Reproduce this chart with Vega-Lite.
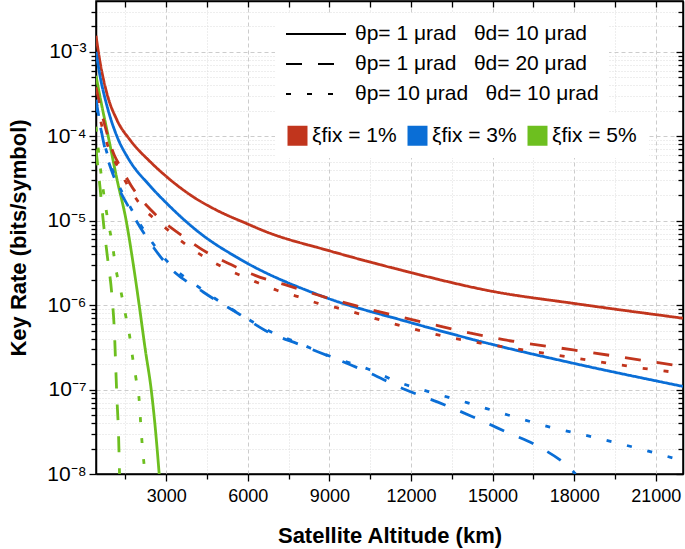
{
  "$schema": "https://vega.github.io/schema/vega-lite/v6.json",
  "width": 587,
  "height": 473,
  "autosize": {"type": "none"},
  "padding": {"left": 96, "top": 1, "right": 2, "bottom": 75},
  "config": {
    "font": "Liberation Sans",
    "view": {"stroke": "black", "strokeWidth": 1.5},
    "axis": {"domainColor": "black", "domainWidth": 1.5, "tickColor": "black", "tickWidth": 1.3, "labelColor": "black", "titleColor": "black", "labelFont": "Liberation Sans", "titleFont": "Liberation Sans"}
  },
  "data": {"values": [
    {"a":420,"r":1.55e-3,"c":"1%","s":"A"},{"a":577,"r":7.3e-4,"c":"1%","s":"A"},{"a":822,"r":3.2e-4,"c":"1%","s":"A"},{"a":1189,"r":1.56e-4,"c":"1%","s":"A"},{"a":1677,"r":9.0e-5,"c":"1%","s":"A"},{"a":2412,"r":5.0e-5,"c":"1%","s":"A"},{"a":3025,"r":3.3e-5,"c":"1%","s":"A"},{"a":3990,"r":1.92e-5,"c":"1%","s":"A"},{"a":4840,"r":1.34e-5,"c":"1%","s":"A"},{"a":5940,"r":9.3e-6,"c":"1%","s":"A"},{"a":6675,"r":7.4e-6,"c":"1%","s":"A"},{"a":9000,"r":4.4e-6,"c":"1%","s":"A"},{"a":11843,"r":2.5e-6,"c":"1%","s":"A"},{"a":15025,"r":1.45e-6,"c":"1%","s":"A"},{"a":17964,"r":1.05e-6,"c":"1%","s":"A"},{"a":22000,"r":7.0e-7,"c":"1%","s":"A"},

    {"a":420,"r":1.0e-3,"c":"3%","s":"A"},{"a":577,"r":5.0e-4,"c":"3%","s":"A"},{"a":822,"r":2.3e-4,"c":"3%","s":"A"},{"a":1189,"r":1.0e-4,"c":"3%","s":"A"},{"a":1600,"r":5.5e-5,"c":"3%","s":"A"},{"a":2400,"r":2.6e-5,"c":"3%","s":"A"},{"a":3025,"r":1.6e-5,"c":"3%","s":"A"},{"a":4249,"r":7.1e-6,"c":"3%","s":"A"},{"a":5719,"r":3.5e-6,"c":"3%","s":"A"},{"a":8779,"r":1.26e-6,"c":"3%","s":"A"},{"a":11843,"r":6.4e-7,"c":"3%","s":"A"},{"a":15025,"r":3.4e-7,"c":"3%","s":"A"},{"a":17964,"r":2.05e-7,"c":"3%","s":"A"},{"a":22000,"r":1.09e-7,"c":"3%","s":"A"},

    {"a":420,"r":5.2e-4,"c":"5%","s":"A"},{"a":600,"r":2.6e-4,"c":"5%","s":"A"},{"a":869,"r":1.0e-4,"c":"5%","s":"A"},{"a":1200,"r":3.0e-5,"c":"5%","s":"A"},{"a":1530,"r":1.0e-5,"c":"5%","s":"A"},{"a":1780,"r":3.2e-6,"c":"5%","s":"A"},{"a":2008,"r":1.0e-6,"c":"5%","s":"A"},{"a":2230,"r":3.0e-7,"c":"5%","s":"A"},{"a":2449,"r":1.0e-7,"c":"5%","s":"A"},{"a":2600,"r":3.5e-8,"c":"5%","s":"A"},{"a":2743,"r":1.0e-8,"c":"5%","s":"A"},

    {"a":420,"r":3.8e-4,"c":"1%","s":"B"},{"a":740,"r":1.36e-4,"c":"1%","s":"B"},{"a":1090,"r":6.0e-5,"c":"1%","s":"B"},{"a":1310,"r":4.4e-5,"c":"1%","s":"B"},{"a":1714,"r":2.6e-5,"c":"1%","s":"B"},{"a":2670,"r":1.13e-5,"c":"1%","s":"B"},{"a":3600,"r":6.6e-6,"c":"1%","s":"B"},{"a":4500,"r":4.2e-6,"c":"1%","s":"B"},{"a":5400,"r":3.0e-6,"c":"1%","s":"B"},{"a":6270,"r":2.25e-6,"c":"1%","s":"B"},{"a":7480,"r":1.7e-6,"c":"1%","s":"B"},{"a":8770,"r":1.26e-6,"c":"1%","s":"B"},{"a":10000,"r":9.8e-7,"c":"1%","s":"B"},{"a":11350,"r":7.6e-7,"c":"1%","s":"B"},{"a":12700,"r":6.0e-7,"c":"1%","s":"B"},{"a":14000,"r":4.8e-7,"c":"1%","s":"B"},{"a":15400,"r":3.9e-7,"c":"1%","s":"B"},{"a":17964,"r":2.95e-7,"c":"1%","s":"B"},{"a":20800,"r":2.15e-7,"c":"1%","s":"B"},{"a":22000,"r":1.87e-7,"c":"1%","s":"B"},

    {"a":420,"r":2.6e-4,"c":"1%","s":"C"},{"a":740,"r":1.0e-4,"c":"1%","s":"C"},{"a":1336,"r":3.7e-5,"c":"1%","s":"C"},{"a":2155,"r":1.41e-5,"c":"1%","s":"C"},{"a":2780,"r":9.3e-6,"c":"1%","s":"C"},{"a":3800,"r":5.0e-6,"c":"1%","s":"C"},{"a":5000,"r":2.9e-6,"c":"1%","s":"C"},{"a":6270,"r":1.9e-6,"c":"1%","s":"C"},{"a":7067,"r":1.5e-6,"c":"1%","s":"C"},{"a":7850,"r":1.26e-6,"c":"1%","s":"C"},{"a":8585,"r":1.05e-6,"c":"1%","s":"C"},{"a":9390,"r":9.1e-7,"c":"1%","s":"C"},{"a":11720,"r":5.6e-7,"c":"1%","s":"C"},{"a":13500,"r":4.1e-7,"c":"1%","s":"C"},{"a":15700,"r":3.1e-7,"c":"1%","s":"C"},{"a":18088,"r":2.35e-7,"c":"1%","s":"C"},{"a":21515,"r":1.63e-7,"c":"1%","s":"C"},{"a":22000,"r":1.57e-7,"c":"1%","s":"C"},

    {"a":420,"r":2.7e-4,"c":"3%","s":"B"},{"a":760,"r":6.9e-5,"c":"3%","s":"B"},{"a":1050,"r":3.5e-5,"c":"3%","s":"B"},{"a":1680,"r":1.34e-5,"c":"3%","s":"B"},{"a":2410,"r":5.5e-6,"c":"3%","s":"B"},{"a":3040,"r":3.0e-6,"c":"3%","s":"B"},{"a":4360,"r":1.43e-6,"c":"3%","s":"B"},{"a":5720,"r":7.7e-7,"c":"3%","s":"B"},{"a":6750,"r":4.8e-7,"c":"3%","s":"B"},{"a":7920,"r":3.4e-7,"c":"3%","s":"B"},{"a":10420,"r":1.6e-7,"c":"3%","s":"B"},{"a":11780,"r":1.0e-7,"c":"3%","s":"B"},{"a":12990,"r":7.1e-8,"c":"3%","s":"B"},{"a":14242,"r":4.8e-8,"c":"3%","s":"B"},{"a":15454,"r":3.2e-8,"c":"3%","s":"B"},{"a":16740,"r":2.07e-8,"c":"3%","s":"B"},{"a":17805,"r":1.2e-8,"c":"3%","s":"B"},{"a":18050,"r":1.0e-8,"c":"3%","s":"B"},

    {"a":420,"r":2.2e-4,"c":"3%","s":"C"},{"a":760,"r":7.5e-5,"c":"3%","s":"C"},{"a":1050,"r":3.8e-5,"c":"3%","s":"C"},{"a":1680,"r":1.45e-5,"c":"3%","s":"C"},{"a":2410,"r":6.0e-6,"c":"3%","s":"C"},{"a":3040,"r":3.3e-6,"c":"3%","s":"C"},{"a":4360,"r":1.5e-6,"c":"3%","s":"C"},{"a":5720,"r":7.8e-7,"c":"3%","s":"C"},{"a":6750,"r":5.0e-7,"c":"3%","s":"C"},{"a":7920,"r":3.5e-7,"c":"3%","s":"C"},{"a":9000,"r":2.5e-7,"c":"3%","s":"C"},{"a":10420,"r":1.75e-7,"c":"3%","s":"C"},{"a":11640,"r":1.19e-7,"c":"3%","s":"C"},{"a":12441,"r":9.9e-8,"c":"3%","s":"C"},{"a":14058,"r":7.0e-8,"c":"3%","s":"C"},{"a":15565,"r":5.0e-8,"c":"3%","s":"C"},{"a":17107,"r":3.6e-8,"c":"3%","s":"C"},{"a":18687,"r":2.74e-8,"c":"3%","s":"C"},{"a":20303,"r":2.03e-8,"c":"3%","s":"C"},{"a":21809,"r":1.5e-8,"c":"3%","s":"C"},{"a":22000,"r":1.45e-8,"c":"3%","s":"C"},

    {"a":420,"r":7.0e-5,"c":"5%","s":"B"},{"a":468,"r":5.0e-5,"c":"5%","s":"B"},{"a":567,"r":2.5e-5,"c":"5%","s":"B"},{"a":688,"r":9.8e-6,"c":"5%","s":"B"},{"a":850,"r":3.5e-6,"c":"5%","s":"B"},{"a":1005,"r":1.3e-6,"c":"5%","s":"B"},{"a":1100,"r":4.6e-7,"c":"5%","s":"B"},{"a":1150,"r":1.7e-7,"c":"5%","s":"B"},{"a":1189,"r":7.9e-8,"c":"5%","s":"B"},{"a":1247,"r":3.05e-8,"c":"5%","s":"B"},{"a":1285,"r":1.0e-8,"c":"5%","s":"B"},

    {"a":420,"r":1.3e-4,"c":"5%","s":"C"},{"a":570,"r":4.5e-5,"c":"5%","s":"C"},{"a":800,"r":1.3e-5,"c":"5%","s":"C"},{"a":1040,"r":4.8e-6,"c":"5%","s":"C"},{"a":1150,"r":2.7e-6,"c":"5%","s":"C"},{"a":1336,"r":1.45e-6,"c":"5%","s":"C"},{"a":1494,"r":8.0e-7,"c":"5%","s":"C"},{"a":1652,"r":4.4e-7,"c":"5%","s":"C"},{"a":1762,"r":2.45e-7,"c":"5%","s":"C"},{"a":1887,"r":1.37e-7,"c":"5%","s":"C"},{"a":2008,"r":7.5e-8,"c":"5%","s":"C"},{"a":2082,"r":3.2e-8,"c":"5%","s":"C"},{"a":2144,"r":1.8e-8,"c":"5%","s":"C"},{"a":2228,"r":1.0e-8,"c":"5%","s":"C"}
  ]},
  "layer": [
    {
      "mark": {"type": "line", "strokeWidth": 2.8, "clip": true, "strokeCap": "butt", "interpolate": "monotone"},
      "encoding": {
        "x": {"field": "a", "type": "quantitative",
          "scale": {"domain": [420, 22000], "nice": false, "zero": false},
          "axis": {
            "values": [1500,3000,4500,6000,7500,9000,10500,12000,13500,15000,16500,18000,19500,21000],
            "format": "d",
            "labelExpr": "datum.value % 3000 == 0 ? datum.label : ''",
            "labelFontSize": 18, "labelPadding": 6,
            "tickSize": {"condition": {"test": "datum.value % 3000 == 0", "value": 7}, "value": 5},
            "grid": true,
            "gridDash": {"condition": {"test": "datum.value % 3000 == 0", "value": [4, 3]}, "value": [1, 2]},
            "gridColor": {"condition": {"test": "datum.value % 3000 == 0", "value": "#cccccc"}, "value": "#dddddd"},
            "title": "Satellite Altitude (km)", "titleFontSize": 22, "titleFontWeight": "bold", "titlePadding": 20
          }
        },
        "y": {"field": "r", "type": "quantitative",
          "scale": {"type": "log", "domain": [1e-8, 4e-3], "nice": false},
          "axis": {
            "values": [1e-8,2e-8,3e-8,4e-8,5e-8,6e-8,7e-8,8e-8,9e-8,1e-7,2e-7,3e-7,4e-7,5e-7,6e-7,7e-7,8e-7,9e-7,1e-6,2e-6,3e-6,4e-6,5e-6,6e-6,7e-6,8e-6,9e-6,1e-5,2e-5,3e-5,4e-5,5e-5,6e-5,7e-5,8e-5,9e-5,1e-4,2e-4,3e-4,4e-4,5e-4,6e-4,7e-4,8e-4,9e-4,1e-3,2e-3,3e-3],
            "labelExpr": "abs(log(datum.value)/LN10 - round(log(datum.value)/LN10)) < 0.001 ? '10' + ['⁻⁸','⁻⁷','⁻⁶','⁻⁵','⁻⁴','⁻³'][round(log(datum.value)/LN10) + 8] : ''",
            "labelFontSize": 21, "labelPadding": 3,
            "tickSize": {"condition": {"test": "abs(log(datum.value)/LN10 - round(log(datum.value)/LN10)) < 0.001", "value": 7}, "value": 5},
            "grid": true,
            "gridDash": {"condition": {"test": "abs(log(datum.value)/LN10 - round(log(datum.value)/LN10)) < 0.001", "value": [4, 3]}, "value": [1, 2]},
            "gridColor": {"condition": {"test": "abs(log(datum.value)/LN10 - round(log(datum.value)/LN10)) < 0.001", "value": "#cccccc"}, "value": "#dddddd"},
            "title": "Key Rate (bits/symbol)", "titleFontSize": 22, "titleFontWeight": "bold", "titlePadding": 16
          }
        },
        "color": {"field": "c", "type": "nominal",
          "scale": {"domain": ["1%", "3%", "5%"], "range": ["#c1351d", "#0a6ed6", "#6dbf1f"]},
          "legend": {
            "orient": "none", "legendX": 179, "legendY": 112,
            "direction": "horizontal", "columns": 3, "title": null,
            "labelExpr": "'ξfix = ' + datum.label",
            "labelFontSize": 21, "labelFont": "Liberation Sans", "labelColor": "black", "labelLimit": 200,
            "symbolType": "square", "symbolSize": 400, "symbolStrokeWidth": 0,
            "columnPadding": 10, "padding": 12,
            "fillColor": "white",
            "encode": {"symbols": {"update": {"fill": {"scale": "color", "field": "value"}, "stroke": {"value": "transparent"}}}}
          }
        },
        "strokeDash": {"field": "s", "type": "nominal",
          "scale": {"domain": ["A", "B", "C"], "range": [[1, 0], [16, 16], [5, 16]]},
          "legend": {
            "orient": "none", "legendX": 179, "legendY": 12,
            "title": null,
            "labelExpr": "datum.label == 'A' ? 'θp= 1 μrad\u00a0\u00a0\u00a0θd= 10 μrad' : datum.label == 'B' ? 'θp= 1 μrad\u00a0\u00a0\u00a0θd= 20 μrad' : 'θp= 10 μrad\u00a0\u00a0\u00a0θd= 10 μrad'",
            "labelFontSize": 21, "labelFont": "Liberation Sans", "labelColor": "black", "labelLimit": 400,
            "symbolType": "M-1,0H5", "symbolSize": 400, "symbolStrokeWidth": 1.8, "symbolStrokeColor": "black",
            "labelOffset": 48,
            "rowPadding": 9, "padding": 10,
            "fillColor": "white"
          }
        }
      }
    },
    {
      "mark": {"type": "line", "opacity": 0},
      "encoding": {
        "x": {"field": "a", "type": "quantitative",
          "axis": {"orient": "top", "values": [1500,3000,4500,6000,7500,9000,10500,12000,13500,15000,16500,18000,19500,21000], "labels": false, "tickSize": -6, "grid": false, "title": null}
        },
        "y": {"field": "r", "type": "quantitative",
          "axis": {"orient": "right",
            "values": [1e-8,2e-8,3e-8,4e-8,5e-8,6e-8,7e-8,8e-8,9e-8,1e-7,2e-7,3e-7,4e-7,5e-7,6e-7,7e-7,8e-7,9e-7,1e-6,2e-6,3e-6,4e-6,5e-6,6e-6,7e-6,8e-6,9e-6,1e-5,2e-5,3e-5,4e-5,5e-5,6e-5,7e-5,8e-5,9e-5,1e-4,2e-4,3e-4,4e-4,5e-4,6e-4,7e-4,8e-4,9e-4,1e-3,2e-3,3e-3],
            "labels": false, "grid": false, "title": null,
            "tickSize": {"condition": {"test": "abs(log(datum.value)/LN10 - round(log(datum.value)/LN10)) < 0.001", "value": -7}, "value": -5}
          }
        }
      }
    }
  ],
  "resolve": {"axis": {"x": "independent", "y": "independent"}}
}
